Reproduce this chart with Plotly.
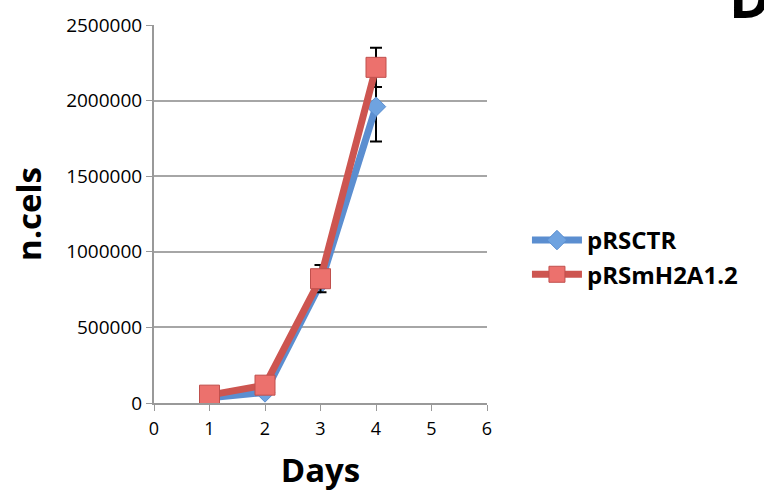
import plotly.graph_objects as go

days = [1, 2, 3, 4]
ctr_values = [35000, 70000, 790000, 1960000]
ctr_err = [0, 0, 0, 230000]
h2a_values = [52000, 118000, 822000, 2220000]
h2a_err = [0, 0, 90000, 130000]
x_ticks = [0, 1, 2, 3, 4, 5, 6]
y_ticks = [0, 500000, 1000000, 1500000, 2000000, 2500000]

blue = "#5B8ED0"
red = "#CD5550"

fig = go.Figure()
fig.add_trace(go.Scatter(
    x=days, y=ctr_values, name="pRSCTR", mode="lines+markers",
    line=dict(color=blue, width=7),
    marker=dict(symbol="diamond", size=15, color="#6FA3E0", line=dict(color=blue, width=1)),
    error_y=dict(type="data", array=ctr_err, visible=True, color="black", thickness=2, width=6),
))
fig.add_trace(go.Scatter(
    x=days, y=h2a_values, name="pRSmH2A1.2", mode="lines+markers",
    line=dict(color=red, width=7),
    marker=dict(symbol="square", size=20, color="#EC716D", line=dict(color="#C0504D", width=1)),
    error_y=dict(type="data", array=h2a_err, visible=True, color="black", thickness=2, width=6),
))

fig.update_layout(
    width=764, height=498,
    margin=dict(l=154, r=277, t=21, b=95),
    paper_bgcolor="white", plot_bgcolor="white",
    font=dict(family="Open Sans", color="black"),
    showlegend=True,
    legend=dict(x=1.12, y=0.385, xanchor="left", yanchor="middle",
                font=dict(size=24, family="Open Sans", weight="bold"),
                tracegroupgap=0, itemwidth=50),
    xaxis=dict(range=[0, 6], tickvals=x_ticks, showgrid=False, zeroline=False,
               showline=True, linecolor="#999999", linewidth=2,
               ticks="outside", tickcolor="#999999", ticklen=6,
               tickfont=dict(size=18), ticklabelstandoff=2,
               title=dict(text="Days", font=dict(size=33, weight="bold"), standoff=20)),
    yaxis=dict(range=[0, 2500000], tickvals=y_ticks, showgrid=True, gridcolor="#A6A6A6", gridwidth=2,
               zeroline=False, showline=True, linecolor="#999999", linewidth=2,
               ticks="outside", tickcolor="#999999", ticklen=6,
               tickfont=dict(size=19), tickformat="d",
               title=dict(text="n.cels", font=dict(size=33, weight="bold"), standoff=15)),
)
fig.add_annotation(text="D", xref="paper", yref="paper", x=1.72, y=0.972, xanchor="left", yanchor="bottom",
                   showarrow=False, font=dict(size=56, family="Open Sans", weight="bold"))

fig.write_html("out.html")
